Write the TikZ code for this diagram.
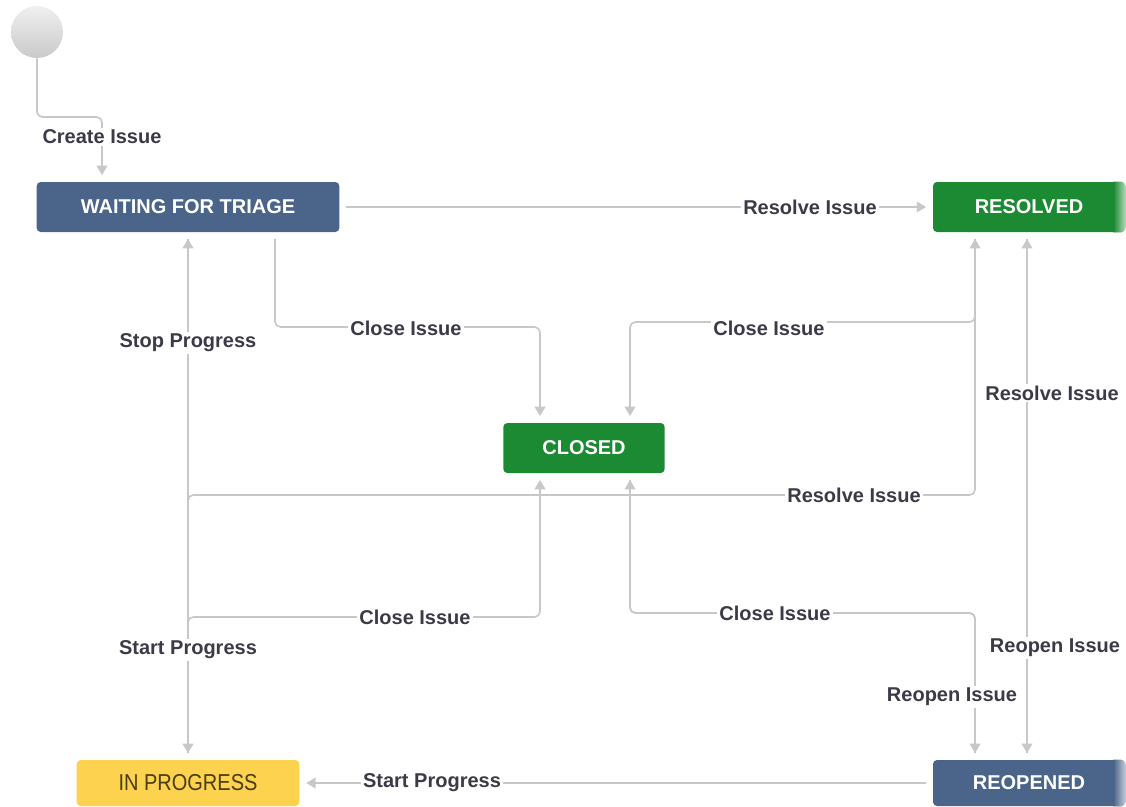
\documentclass[tikz,border=0pt]{standalone}
\usepackage{fontspec}
\usepackage{graphicx}
\setmainfont{Liberation Sans}
\usetikzlibrary{arrows.meta,calc}
\definecolor{wblue}{HTML}{4A6589}
\definecolor{rgreen}{HTML}{1B8A32}
\definecolor{iyellow}{HTML}{FDD24E}
\definecolor{ytxt}{HTML}{4A3C14}
\definecolor{ltxt}{HTML}{3B3B48}
\definecolor{cgray}{HTML}{C8C8C8}
\begin{document}
\begin{tikzpicture}[x=0.75pt,y=-0.75pt,
  statebox/.style={rectangle, rounded corners=3pt, minimum height=37.5pt, inner sep=0pt,
    font=\fontsize{15}{18}\selectfont\bfseries, text=white},
  lbl/.style={fill=white, inner sep=1.5pt, text=ltxt, font=\fontsize{15}{18}\selectfont\bfseries},
  conn/.style={draw=cgray, line width=1.2pt, rounded corners=4pt, shorten >=5pt, shorten <=5pt,
    -{Triangle[width=8pt,length=7pt]}},
  ]
\useasboundingbox (0,0) rectangle (1126,806);
% nodes
\node[circle, minimum size=39pt, inner sep=0pt, top color=gray!12, bottom color=gray!42, draw=none] (start) at (37,32) {};
\node[statebox, fill=wblue, minimum width=227pt] (wft) at (188,207) {WAITING FOR TRIAGE};
\node[statebox, fill=rgreen, minimum width=144pt] (resolved) at (1029,207) {RESOLVED};
\node[statebox, fill=rgreen, minimum width=121pt] (closed) at (584,448) {CLOSED};
\node[statebox, fill=iyellow, text=ytxt, font=\fontsize{15}{18}\selectfont, minimum width=167pt, minimum height=34.5pt] (inprog) at (188,783) {\scalebox{1}[1.15]{IN PROGRESS}};
\node[statebox, fill=wblue, minimum width=144pt, minimum height=34.5pt] (reopened) at (1029,783) {REOPENED};
% soft right edges
\begin{scope}
\clip[rounded corners=3pt] (resolved.south west) rectangle (resolved.north east);
\shade[left color=rgreen, right color=rgreen!35!white] ($(resolved.north east)+(-12,0)$) rectangle (resolved.south east);
\end{scope}
\begin{scope}
\clip[rounded corners=3pt] (reopened.south west) rectangle (reopened.north east);
\shade[left color=wblue, right color=wblue!35!white] ($(reopened.north east)+(-12,0)$) rectangle (reopened.south east);
\end{scope}
% columns
\coordinate (cF) at (102,0);
\coordinate (cA) at (275,0);
\coordinate (cB) at (540,0);
\coordinate (cC) at (630,0);
\coordinate (cD) at (975,0);
\coordinate (cE) at (1027,0);
% connectors
\draw[conn, shorten <=0pt] (start.south) |- (102,117) -- (wft.north -| cF);
\draw[conn] (wft.east) -- (resolved.west);
\draw[conn] (wft.south -| cA) |- (540,327) -- (closed.north -| cB);
\draw[conn] (resolved.south -| cD) |- (630,322) -- (closed.north -| cC);
\draw[conn] (inprog.north) |- (975,495) -- (resolved.south -| cD);
\draw[conn] (reopened.north -| cE) -- (resolved.south -| cE);
\draw[conn] (resolved.south -| cE) -- (reopened.north -| cE);
\draw[conn] (reopened.north -| cD) |- (630,613) -- (closed.south -| cC);
\draw[conn] (closed.south -| cC) |- (975,613) -- (reopened.north -| cD);
\draw[conn] (inprog.north) |- (540,617) -- (closed.south -| cB);
\draw[conn] (inprog.north) -- (wft.south);
\draw[conn] (wft.south) -- (inprog.north);
\draw[conn] (reopened.west) -- (inprog.east);
% labels
\node[lbl] (l1) at (102,137) {Create Issue};
\node[lbl] (l2) at (810,207) {Resolve Issue};
\node[lbl] (l3) at (406,328) {Close Issue};
\node[lbl] (l4) at (769,328) {Close Issue};
\node[lbl] (l5) at (854,495) {Resolve Issue};
\node[lbl] (l6) at (1052,393) {Resolve Issue};
\node[lbl] (l7) at (1055,648) {Reopen Issue};
\node[lbl] (l8) at (775,613) {Close Issue};
\node[lbl] (l9) at (952,697) {Reopen Issue};
\node[lbl] (l10) at (415,617) {Close Issue};
\node[lbl] (l11) at (188,343) {Stop Progress};
\node[lbl] (l12) at (188,650) {Start Progress};
\node[lbl] (l13) at (432,783) {Start Progress};
\end{tikzpicture}
\end{document}
